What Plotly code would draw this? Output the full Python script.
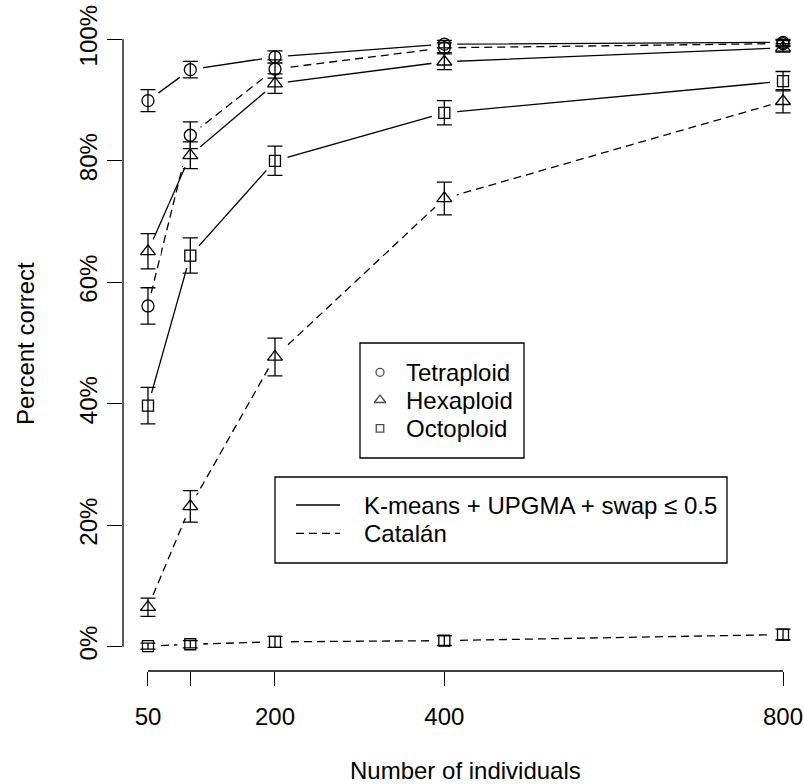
import plotly.graph_objects as go

# ---- data ----
n_individuals = [50, 100, 200, 400, 800]
x_tick_labels = ["50", "", "200", "400", "800"]
y_tick_vals = [0, 20, 40, 60, 80, 100]
y_tick_labels = ["0%", "20%", "40%", "60%", "80%", "100%"]

kmeans_tetra = [89.9, 95.0, 97.1, 99.2, 99.5]
kmeans_tetra_err = [1.8, 1.35, 1.0, 0.6, 0.5]
kmeans_hexa = [65.1, 80.9, 92.7, 96.3, 98.6]
kmeans_hexa_err = [2.9, 2.2, 1.6, 1.3, 0.7]
kmeans_octo = [39.7, 64.4, 80.0, 87.9, 93.1]
kmeans_octo_err = [3.0, 2.9, 2.4, 2.0, 1.6]

catalan_tetra = [56.1, 84.2, 95.1, 98.6, 99.3]
catalan_tetra_err = [3.0, 2.2, 1.5, 0.8, 0.5]
catalan_hexa = [6.5, 23.1, 47.7, 73.8, 89.8]
catalan_hexa_err = [1.5, 2.6, 3.1, 2.7, 1.9]
catalan_octo = [0.1, 0.4, 0.8, 1.0, 2.0]
catalan_octo_err = [0.5, 0.6, 0.9, 0.8, 0.9]

ploidy_names = ["Tetraploid", "Hexaploid", "Octoploid"]
method_names = ["K-means + UPGMA + swap \u2264 0.5", "Catal\u00e1n"]

FONT = "Liberation Sans, Arial, Helvetica, sans-serif"
FS = 24
LW = 1.3

series = [
    (kmeans_tetra, kmeans_tetra_err, "circle-open", 12, "solid"),
    (kmeans_hexa, kmeans_hexa_err, "triangle-up-open", 13, "solid"),
    (kmeans_octo, kmeans_octo_err, "square-open", 11, "solid"),
    (catalan_tetra, catalan_tetra_err, "circle-open", 12, "8px,5px"),
    (catalan_hexa, catalan_hexa_err, "triangle-up-open", 13, "8px,5px"),
    (catalan_octo, catalan_octo_err, "square-open", 11, "8px,5px"),
]

fig = go.Figure()

# connecting lines
for vals, err, sym, sz, dash in series:
    fig.add_trace(go.Scatter(x=n_individuals, y=vals, mode="lines",
                             line=dict(color="black", width=LW, dash=dash),
                             showlegend=False, hoverinfo="skip"))

# white gaps around points (R type="b")
all_x = n_individuals * len(series)
all_y = [v for s in series for v in s[0]]
fig.add_trace(go.Scatter(x=all_x, y=all_y, mode="markers",
                         marker=dict(symbol="circle", size=26, color="white",
                                     line=dict(width=0)),
                         showlegend=False, hoverinfo="skip", cliponaxis=False))

# markers + error bars
for vals, err, sym, sz, dash in series:
    fig.add_trace(go.Scatter(x=n_individuals, y=vals, mode="markers",
                             marker=dict(symbol=sym, size=sz, color="black",
                                         line=dict(color="black", width=LW)),
                             error_y=dict(type="data", array=err, visible=True,
                                          color="black", thickness=LW, width=7.5),
                             showlegend=False, cliponaxis=False))

# ---- legend (drawn in a pixel-unit overlay) ----
L1_box = (360, 343, 524, 458)
L1_sym_x, L1_txt_x = 380, 404
L1_rows = [372.3, 400.0, 428.3]
L2_box = (275, 477, 727, 563)
L2_line = (296, 340)
L2_txt_x = 362
L2_rows = [505.0, 533.3]

fig.add_trace(go.Scatter(x=[L1_sym_x] * 3, y=L1_rows, mode="markers",
                         xaxis="x2", yaxis="y2",
                         marker=dict(symbol=["circle-open", "triangle-up-open", "square-open"],
                                     size=[8, 10, 7.5], color="black",
                                     line=dict(color="black", width=LW)),
                         showlegend=False, hoverinfo="skip", cliponaxis=False))

shapes = []
annotations = []
for box in (L1_box, L2_box):
    shapes.append(dict(type="rect", xref="x2", yref="y2", x0=box[0], x1=box[2],
                       y0=box[1], y1=box[3], line=dict(color="black", width=LW)))
for name, ry in zip(ploidy_names, L1_rows):
    annotations.append(dict(xref="x2", yref="y2", x=L1_txt_x, y=ry, text=name,
                            showarrow=False, xanchor="left", yanchor="middle",
                            font=dict(family=FONT, size=FS, color="black")))
for name, ry, dash in zip(method_names, L2_rows, ["solid", "8px,5px"]):
    shapes.append(dict(type="line", xref="x2", yref="y2", x0=L2_line[0], x1=L2_line[1],
                       y0=ry, y1=ry, line=dict(color="black", width=LW, dash=dash)))
    annotations.append(dict(xref="x2", yref="y2", x=L2_txt_x, y=ry, text=name,
                            showarrow=False, xanchor="left", yanchor="middle",
                            font=dict(family=FONT, size=FS, color="black")))

# axis titles
annotations.append(dict(xref="x2", yref="paper", x=465, y=-0.1524, yanchor="middle",
                        text="Number of individuals", showarrow=False,
                        font=dict(family=FONT, size=FS, color="black")))
annotations.append(dict(xref="paper", yref="y2", x=-0.144, y=343, xanchor="center",
                        text="Percent correct", showarrow=False, textangle=-90,
                        font=dict(family=FONT, size=FS, color="black")))

# axis lines spanning first..last tick (R style)
shapes.append(dict(type="line", xref="x", yref="paper", x0=n_individuals[0],
                   x1=n_individuals[-1], y0=0, y1=0, line=dict(color="black", width=LW)))
shapes.append(dict(type="line", xref="paper", yref="y", x0=0, x1=0,
                   y0=y_tick_vals[0], y1=y_tick_vals[-1], line=dict(color="black", width=LW)))

fig.update_layout(
    width=804, height=784,
    margin=dict(l=123, r=0, t=15, b=113, autoexpand=False),
    plot_bgcolor="white", paper_bgcolor="white",
    font=dict(family=FONT, size=FS, color="black"),
    showlegend=False,
    xaxis=dict(range=[20.5, 824.8], tickvals=n_individuals, ticktext=x_tick_labels,
               ticks="outside", ticklen=14, tickwidth=LW, tickcolor="black",
               showline=False, showgrid=False, zeroline=False, automargin=False,
               tickfont=dict(size=FS), ticklabelstandoff=10),
    yaxis=dict(range=[-4, 104], tickvals=y_tick_vals, ticktext=y_tick_labels,
               ticks="outside", ticklen=15, tickwidth=LW, tickcolor="black",
               showline=False, showgrid=False, zeroline=False, tickangle=-90,
               automargin=False, tickfont=dict(size=FS), ticklabelstandoff=0),
    xaxis2=dict(overlaying="x", anchor="y2", range=[123, 804], visible=False),
    yaxis2=dict(overlaying="y", anchor="x2", range=[671, 15], visible=False),
    shapes=shapes,
    annotations=annotations,
)

fig.write_html("out.html", config={"displayModeBar": False},
               post_script="document.body.style.margin='0';document.body.style.padding='0';")
